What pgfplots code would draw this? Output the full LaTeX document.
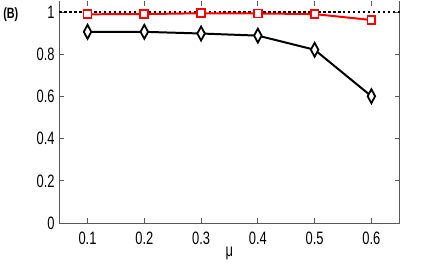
\documentclass[border=0pt]{standalone}
\usepackage{fontspec}
\setmainfont[FakeStretch=0.72]{Liberation Sans}
\usepackage{pgfplots}
\pgfplotsset{compat=1.18}

\begin{document}
\begin{tikzpicture}
\begin{axis}[
  scale only axis,
  width=342pt, height=223pt,
  xmin=0.05, xmax=0.65,
  ymin=0, ymax=1.052,
  xtick={0.1,0.2,0.3,0.4,0.5,0.6},
  ytick={0,0.2,0.4,0.6,0.8,1},
  yticklabels={0,0.2,0.4,0.6,0.8,1},
  xticklabels={0.1,0.2,0.3,0.4,0.5,0.6},
  tick align=inside,
  major tick length=5pt,
  tick style={gray!70!black, line width=0.8pt},
  axis line style={draw=none},
  every x tick label/.append style={yshift=-5pt},
  every y tick label/.append style={xshift=-1pt},
  tick label style={font=\fontsize{18}{20}\selectfont},
  xlabel={μ},
  xlabel style={font=\fontsize{18}{20}\selectfont, yshift=4pt},
  clip=false,
]
% frame without the top edge
\draw[gray!70!black, line width=1pt]
  (rel axis cs:0,1) -- (rel axis cs:0,0) -- (rel axis cs:1,0) -- (rel axis cs:1,1);

% dotted reference at 1
\addplot[black, line width=2.5pt, dash pattern=on 2.5pt off 2.5pt] coordinates {(0.05,1) (0.65,1)};

% black diamonds
\addplot[black, line width=2pt, mark=diamond*, mark size=7pt,
  mark options={fill=white, solid, line width=1.8pt, xscale=0.72}] coordinates {
  (0.1,0.906) (0.2,0.906) (0.3,0.898) (0.4,0.888) (0.5,0.821) (0.6,0.601)
};

% red squares
\addplot[red, line width=2pt, mark=square*, mark size=4pt,
  mark options={fill=white, solid, line width=1.8pt}] coordinates {
  (0.1,0.989) (0.2,0.990) (0.3,0.994) (0.4,0.993) (0.5,0.990) (0.6,0.962)
};

\node[font=\fontsize{15}{17}\selectfont\bfseries, anchor=center]
  at (rel axis cs:-0.142,0.94) {(B)};

\path (rel axis cs:-0.169,-0.218) rectangle (rel axis cs:1.124,1.0045);
\end{axis}
\end{tikzpicture}
\end{document}
